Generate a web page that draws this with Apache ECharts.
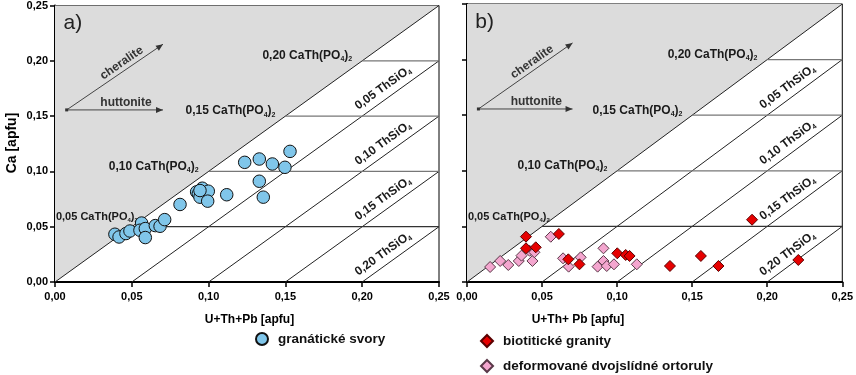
<!DOCTYPE html>
<html><head><meta charset="utf-8">
<script src="https://cdn.jsdelivr.net/npm/echarts@6/dist/echarts.min.js"></script>
<style>html,body{margin:0;padding:0;background:#fff}#c{width:856px;height:375px}</style>
</head><body><div id="c"></div>
<script>
// ---- data ----
const axisMin = 0, axisMax = 0.25, axisStep = 0.05;
const chLevels = [0.05, 0.10, 0.15, 0.20];   // CaTh(PO4)2 isolines
const thLevels = [0.05, 0.10, 0.15, 0.20];   // ThSiO4 isolines

const granSvoryX = [0.039,0.0417,0.0462,0.0488,0.0564,0.0553,0.0588,0.0588,0.0653,0.0684,0.0714,0.0814,0.0922,0.0933,0.0959,0.0944,0.0998,0.0994,0.1118,0.1235,0.1330,0.1330,0.1356,0.1415,0.1497,0.1530,0.0944];
const granSvoryY = [0.0432,0.0407,0.0438,0.0461,0.0533,0.0468,0.0483,0.0402,0.0510,0.0504,0.0564,0.0701,0.0815,0.0797,0.0848,0.0767,0.0821,0.0731,0.0789,0.1082,0.1112,0.0911,0.0767,0.1067,0.1037,0.1181,0.0827];

const biotX = [0.0393,0.0393,0.0458,0.0612,0.0675,0.0749,0.1001,0.1057,0.1083,0.1352,0.1558,0.1675,0.1899,0.2207];
const biotY = [0.0408,0.0303,0.0312,0.0432,0.0204,0.0159,0.0258,0.0243,0.0234,0.0144,0.0234,0.0144,0.0560,0.0198];

const defX = [0.0154,0.0221,0.0275,0.0345,0.0363,0.0436,0.0417,0.0449,0.0558,0.0640,0.0677,0.0757,0.0870,0.0909,0.0909,0.0931,0.0979,0.1131];
const defY = [0.0135,0.0189,0.0153,0.0189,0.0237,0.0189,0.0281,0.0267,0.0407,0.0213,0.0138,0.0222,0.0138,0.0303,0.0189,0.0144,0.0159,0.0159];

const seriesNames = ['granátické svory', 'biotitické granity', 'deformované dvojslídné ortoruly'];
const panelLabels = ['a)', 'b)'];
const xTitles = ['U+Th+Pb [apfu]', 'U+Th+ Pb [apfu]'];
const yTitle = 'Ca [apfu]';

// ---- helpers ----
const FF = '"Liberation Sans", Arial, sans-serif';
const fmt = v => v.toFixed(2).replace('.', ',');
const pairs = (xs, ys) => xs.map((x, i) => [x, ys[i]]);
const rich = fs => ({
  n: {fontSize: fs, fontWeight: 'bold', fontFamily: FF, fill: '#1a1a1a', lineHeight: fs + 2},
  s: {fontSize: Math.round(fs * 0.55), fontWeight: 'bold', fontFamily: FF, fill: '#1a1a1a', lineHeight: fs + 2, verticalAlign: 'bottom'}
});

function overlay(panel) {
  return function (params, api) {
    const c = (x, y) => api.coord([x, y]);
    const M = axisMax;
    const ch = [];
    ch.push({type: 'polygon', shape: {points: [c(0, 0), c(0, M), c(M, M)]}, style: {fill: '#dcdcdc'}});
    const seg = (a, b, stroke, w) => ch.push({type: 'line', shape: {x1: a[0], y1: a[1], x2: b[0], y2: b[1]}, style: {stroke, lineWidth: w}});
    seg(c(0, 0), c(M, M), '#222', 1);
    thLevels.forEach(t => seg(c(t, 0), c(M, M - t), '#222', 1));
    chLevels.forEach((l, i) => seg(c(l, l), c(M, l), i === 0 ? '#333' : '#777', 1.2));
    const p0 = c(0, 0), p1 = c(M, M);
    const ang = Math.atan2(p0[1] - p1[1], p1[0] - p0[0]);
    // CaTh(PO4)2 labels
    chLevels.forEach((l, i) => {
      const first = i === 0;
      const pt = first ? c(0.0006, l + 0.0085) : c(l - 0.0065, l + 0.0045);
      ch.push({type: 'text', x: pt[0], y: pt[1], style: {
        text: '{n|' + fmt(l) + ' CaTh(PO}{s|4}{n|)}{s|2}', rich: rich(first ? 11 : 12),
        align: first ? 'left' : 'right', verticalAlign: 'middle'}});
    });
    // ThSiO4 labels
    thLevels.forEach(t => {
      const xx = 0.2135;
      const pt = c(xx, xx - t + 0.012);
      ch.push({type: 'text', x: pt[0], y: pt[1], rotation: ang, style: {
        text: '{n|' + fmt(t) + ' ThSiO}{s|4}', rich: rich(12), align: 'center', verticalAlign: 'middle'}});
    });
    // arrows
    const s = c(0.0076, 0.1556);
    const arrow = (e) => {
      seg(s, e, '#444', 1);
      const a = Math.atan2(e[1] - s[1], e[0] - s[0]);
      const L = 7, W = 3;
      const bx = e[0] - L * Math.cos(a), by = e[1] - L * Math.sin(a);
      ch.push({type: 'polygon', shape: {points: [e, [bx - W * Math.sin(a), by + W * Math.cos(a)], [bx + W * Math.sin(a), by - W * Math.cos(a)]]}, style: {fill: '#333'}});
      return -a;
    };
    const eCh = c(0.0703, 0.215), eHu = c(0.0703, 0.1556);
    const aCh = arrow(eCh);
    arrow(eHu);
    ch.push({type: 'rect', shape: {x: s[0] - 1.5, y: s[1] - 1.5, width: 3, height: 3}, style: {fill: '#333'}});
    const tc = c(0.0434, 0.198);
    ch.push({type: 'text', x: tc[0], y: tc[1], rotation: aCh, style: {text: 'cheralite', font: 'bold 12px ' + FF, fill: '#333', align: 'center', verticalAlign: 'middle'}});
    const th = c(0.0462, 0.1619);
    ch.push({type: 'text', x: th[0], y: th[1], style: {text: 'huttonite', font: 'bold 12px ' + FF, fill: '#333', align: 'center', verticalAlign: 'middle'}});
    // panel letter
    const pl = c(0.0055, 0.2338);
    ch.push({type: 'text', x: pl[0], y: pl[1], style: {text: panelLabels[panel], font: '21px ' + FF, fill: '#222', align: 'left', verticalAlign: 'middle'}});
    return {type: 'group', children: ch};
  };
}

const grids = [
  {left: 55, top: 4, width: 384, height: 278},
  {left: 467, top: 4, width: 384, height: 278}
].map(g => Object.assign(g, {show: true, borderColor: '#000', borderWidth: 1, backgroundColor: '#fff', containLabel: false}));

const axisCommon = {
  type: 'value', min: axisMin, max: axisMax, interval: axisStep,
  splitLine: {show: false},
  axisLine: {show: true, onZero: false, lineStyle: {color: '#000', width: 2}},
  axisTick: {show: true, inside: false, length: 5, lineStyle: {color: '#000', width: 1.5}},
  axisLabel: {formatter: fmt, color: '#000', fontWeight: 'bold', fontSize: 11, fontFamily: FF}
};

const xAxes = [0, 1].map(i => Object.assign({}, axisCommon, {gridIndex: i, axisLabel: Object.assign({}, axisCommon.axisLabel, {margin: 9})}));
const yAxes = [0, 1].map(i => Object.assign({}, axisCommon, {gridIndex: i, axisLabel: Object.assign({}, axisCommon.axisLabel, {margin: 7, show: i === 0})}));

const series = [];
[0, 1].forEach(i => series.push({
  type: 'custom', xAxisIndex: i, yAxisIndex: i, silent: true, z: 1,
  data: [[0, 0]], encode: {x: 0, y: 1}, renderItem: overlay(i), clip: false
}));
series.push({name: seriesNames[0], type: 'scatter', xAxisIndex: 0, yAxisIndex: 0, z: 5,
  symbol: 'circle', symbolSize: 12.5, data: pairs(granSvoryX, granSvoryY),
  itemStyle: {color: '#80c6ea', borderColor: '#111', borderWidth: 1, opacity: 1}});
series.push({name: seriesNames[2], type: 'scatter', xAxisIndex: 1, yAxisIndex: 1, z: 5,
  symbol: 'diamond', symbolSize: 11, data: pairs(defX, defY),
  itemStyle: {color: '#f4a6cf', borderColor: '#5a3848', borderWidth: 1, opacity: 1}});
series.push({name: seriesNames[1], type: 'scatter', xAxisIndex: 1, yAxisIndex: 1, z: 6,
  symbol: 'diamond', symbolSize: 11, data: pairs(biotX, biotY),
  itemStyle: {color: '#e60000', borderColor: '#5a0000', borderWidth: 1, opacity: 1}});

const legText = {fontSize: 13.5, fontWeight: 'bold', color: '#111', fontFamily: FF, padding: [0, 0, 0, 5]};
const leg = (name, left, top) => ({data: [name], left, top, padding: 0, itemWidth: 12, itemHeight: 12, textStyle: legText, selectedMode: false});

const chart = echarts.init(document.getElementById('c'), null, {renderer: 'canvas'});
chart.setOption({
  animation: false,
  backgroundColor: '#fff',
  grid: grids,
  xAxis: xAxes,
  yAxis: yAxes,
  series: series,
  legend: [
    leg(seriesNames[0], 255, 332),
    leg(seriesNames[1], 480, 334),
    leg(seriesNames[2], 480, 359)
  ],
  graphic: [
    {type: 'text', x: 249.5, y: 320, style: {text: xTitles[0], font: 'bold 12px ' + FF, fill: '#000', align: 'center', verticalAlign: 'middle'}},
    {type: 'text', x: 578, y: 320, style: {text: xTitles[1], font: 'bold 12px ' + FF, fill: '#000', align: 'center', verticalAlign: 'middle'}},
    {type: 'text', x: 12, y: 143, rotation: Math.PI / 2, style: {text: yTitle, font: 'bold 14px ' + FF, fill: '#000', align: 'center', verticalAlign: 'middle'}}
  ]
});
</script>
</body></html>
